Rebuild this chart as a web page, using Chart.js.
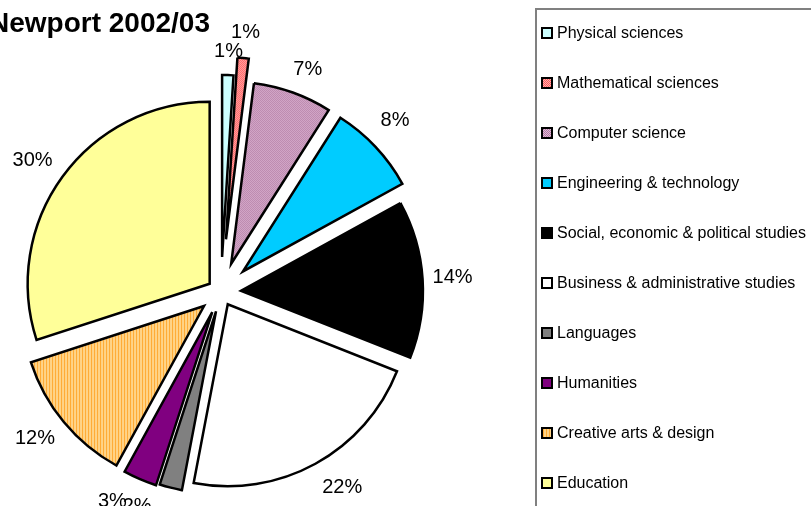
<!DOCTYPE html>
<html>
<head>
<meta charset="utf-8">
<script src="https://cdn.jsdelivr.net/npm/chart.js@4"></script>
<style>
  body { margin: 0; background: #fff; overflow: hidden; }
  #wrap { position: relative; width: 811px; height: 506px; font-family: "Liberation Sans", Arial, sans-serif; }
  #legendBox { position: absolute; left: 535px; top: 8px; width: 300px; height: 520px; border: 2px solid #808080; box-sizing: border-box; }
  #legend { position: absolute; left: 541px; top: 8px; }
  .item { height: 50px; display: flex; align-items: center; font-size: 16px; color: #000; white-space: nowrap; }
  .box { width: 8px; height: 8px; border: 2px solid #000; margin-right: 4px; }
</style>
</head>
<body>
<div id="wrap">
  <canvas id="canvas" width="811" height="506"></canvas>
  <div id="legendBox"></div>
  <div id="legend"></div>
</div>
<script>
// Code goes here

var chartTitle = "Newport 2002/03";
var subjects = ["Physical sciences", "Mathematical sciences", "Computer science", "Engineering & technology",
  "Social, economic & political studies", "Business & administrative studies", "Languages", "Humanities",
  "Creative arts & design", "Education"];
var shares = [1, 1, 7, 8, 14, 22, 2, 3, 12, 30];

// how far each slice is pulled out (px), label distance past the rim (px), label angle nudge (deg)
var explode = [35, 53, 30, 30, 20, 14, 20, 22, 22, 14];
var labelGap = [24, 26, 27, 32, 30, 34, 28, 32, 33, 34];
var labelTurn = [0, 0, 1.5, -1.3, 0, -3, 7, 4, 1.3, -1];

function makePattern(w, h, draw) {
  var c = document.createElement("canvas");
  c.width = w; c.height = h;
  draw(c.getContext("2d"));
  return c;
}
var mathTile = makePattern(2, 2, function(g) {
  g.fillStyle = "#ffb0b0"; g.fillRect(0, 0, 2, 2);
  g.fillStyle = "#ff5a5a"; g.fillRect(0, 0, 1, 1); g.fillRect(1, 1, 1, 1);
});
var compTile = makePattern(2, 2, function(g) {
  g.fillStyle = "#e0b8d8"; g.fillRect(0, 0, 2, 2);
  g.fillStyle = "#b07aa0"; g.fillRect(0, 0, 1, 1); g.fillRect(1, 1, 1, 1);
});
var artsTile = makePattern(3, 1, function(g) {
  g.fillStyle = "#ffd488"; g.fillRect(0, 0, 3, 1);
  g.fillStyle = "#ffaa33"; g.fillRect(0, 0, 1, 1);
});

var ctx = document.getElementById("canvas").getContext("2d");
var colors = ["#ccffff", ctx.createPattern(mathTile, "repeat"), ctx.createPattern(compTile, "repeat"), "#00ccff",
  "#000000", "#ffffff", "#808080", "#800080", ctx.createPattern(artsTile, "repeat"), "#ffff99"];
var cssFills = ["#ccffff", "url(" + mathTile.toDataURL() + ")", "url(" + compTile.toDataURL() + ")", "#00ccff",
  "#000000", "#ffffff", "#808080", "#800080", "url(" + artsTile.toDataURL() + ")", "#ffff99"];

var total = shares.reduce(function(a, b) { return a + b; }, 0);

// draw each slice shifted straight out along its middle (chart.js offset also shrinks the wedge)
var explodedPie = {
  id: "explodedPie",
  beforeDatasetDraw: function(chart, args) {
    var c = chart.ctx;
    args.meta.data.forEach(function(arc, i) {
      var mid = (arc.startAngle + arc.endAngle) / 2;
      c.save();
      c.translate(Math.cos(mid) * explode[i], Math.sin(mid) * explode[i]);
      arc.draw(c);
      c.restore();
    });
    return false;
  },
  afterDatasetsDraw: function(chart) {
    var c = chart.ctx;
    var meta = chart.getDatasetMeta(0);
    c.save();
    c.fillStyle = "#000";
    c.font = '20px "Liberation Sans", Arial, sans-serif';
    c.textAlign = "center";
    c.textBaseline = "middle";
    meta.data.forEach(function(arc, i) {
      var mid = (arc.startAngle + arc.endAngle) / 2 + labelTurn[i] * Math.PI / 180;
      var r = arc.outerRadius + explode[i] + labelGap[i];
      c.fillText(Math.round(shares[i] / total * 100) + "%", arc.x + Math.cos(mid) * r, arc.y + Math.sin(mid) * r);
    });
    c.font = 'bold 28px "Liberation Sans", Arial, sans-serif';
    c.textAlign = "right";
    c.textBaseline = "alphabetic";
    c.fillText(chartTitle, 210, 32);
    c.restore();
  }
};

window.myPie = new Chart(ctx, {
  type: "pie",
  data: {
    labels: subjects,
    datasets: [{
      data: shares,
      backgroundColor: colors,
      borderColor: "#000",
      borderWidth: 2.5,
      borderJoinStyle: "miter",
      hoverOffset: 0,
      offset: 0
    }]
  },
  options: {
    responsive: false,
    animation: false,
    events: [],
    radius: 182,
    layout: { padding: { left: 0, right: 369, top: 78, bottom: 0 } },
    plugins: { legend: { display: false }, title: { display: false }, tooltip: { enabled: false } }
  },
  plugins: [explodedPie]
});

var legend = document.getElementById("legend");
subjects.forEach(function(name, i) {
  var row = document.createElement("div");
  row.className = "item";
  var box = document.createElement("span");
  box.className = "box";
  box.style.background = cssFills[i];
  row.appendChild(box);
  row.appendChild(document.createTextNode(name));
  legend.appendChild(row);
});
</script>
</body>
</html>
